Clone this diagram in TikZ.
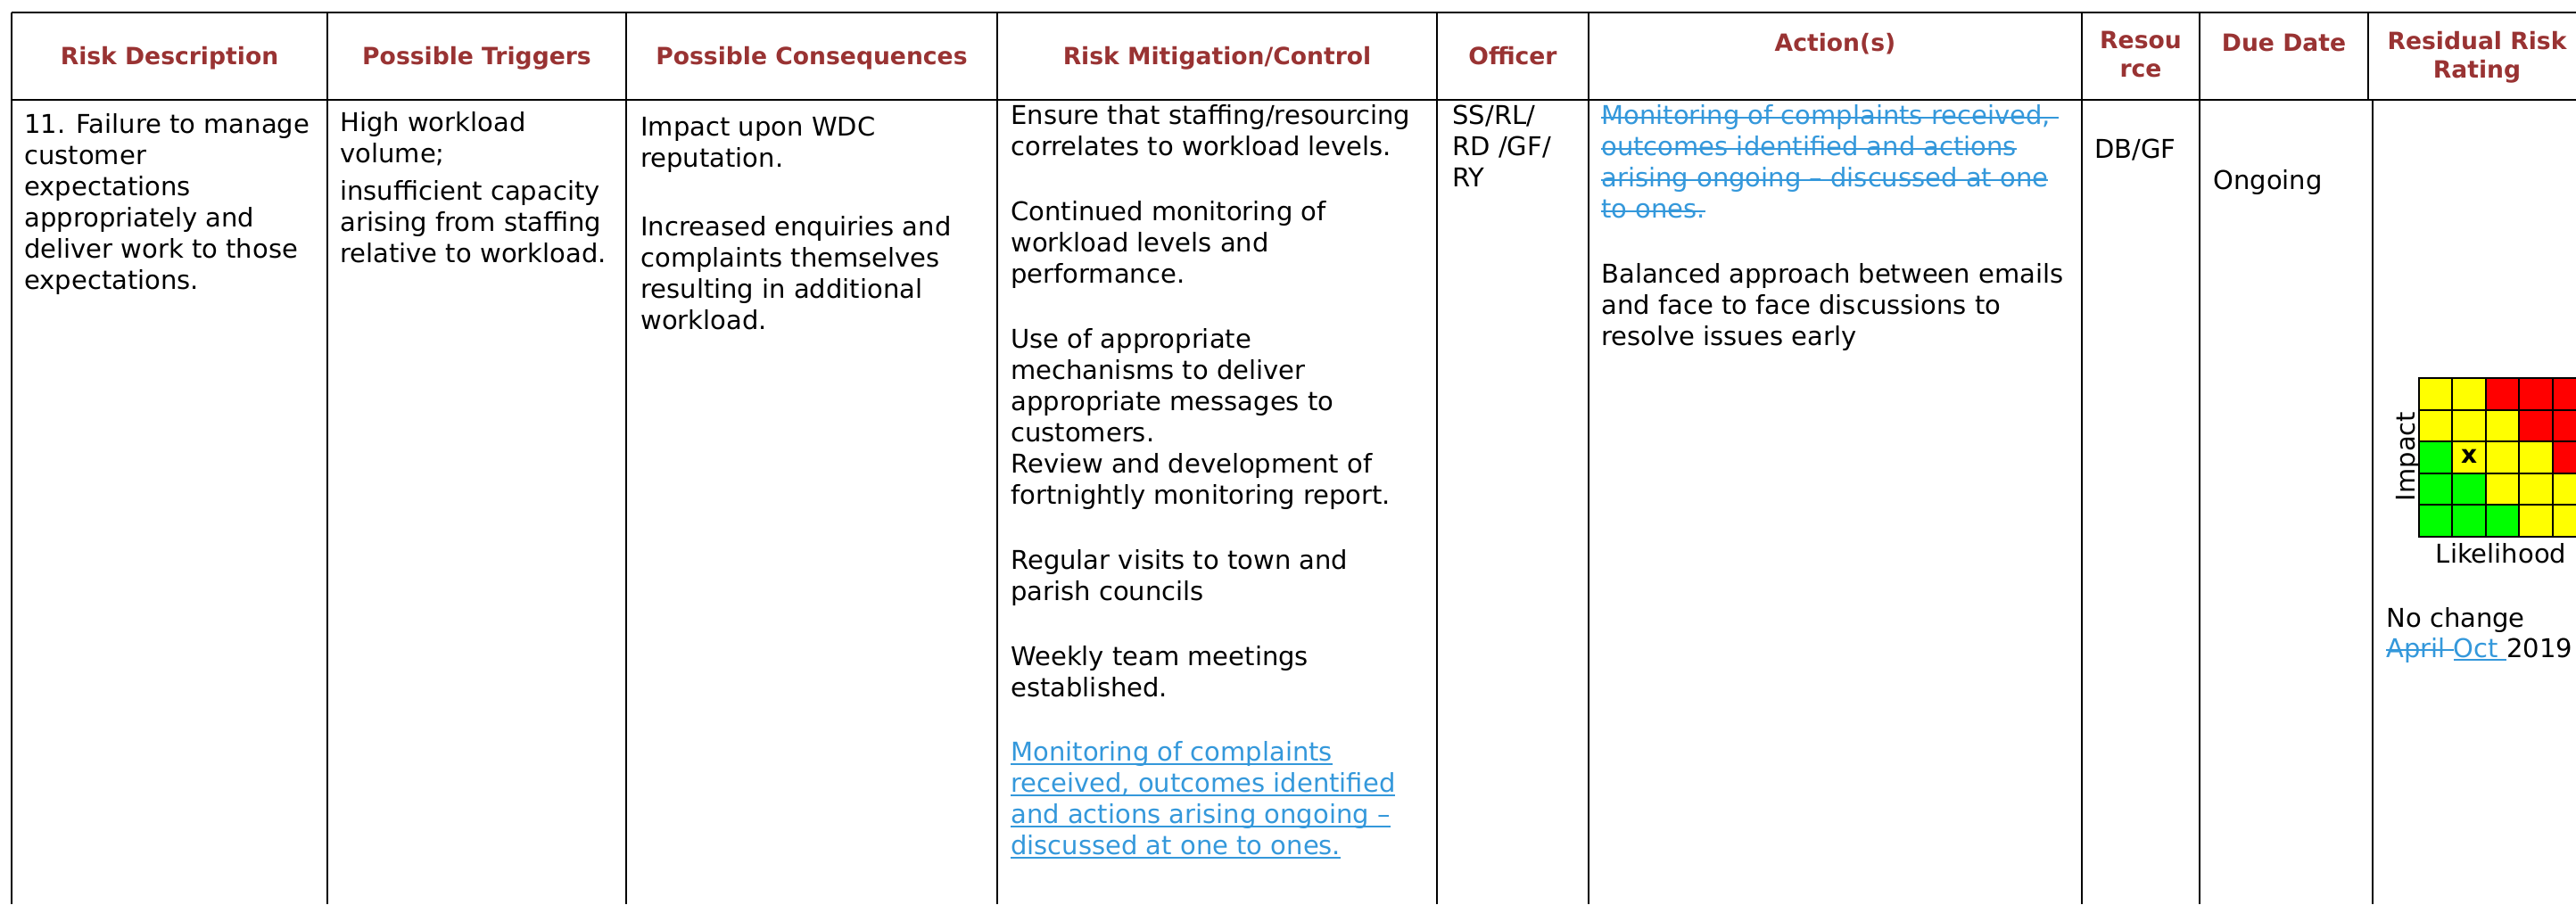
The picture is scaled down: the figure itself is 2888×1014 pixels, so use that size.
\documentclass[tikz,border=0pt]{standalone}
\usepackage{fontspec}
\setmainfont{DejaVu Sans}
\definecolor{hdr}{RGB}{153,51,51}
\definecolor{chg}{RGB}{52,152,219}
\definecolor{rg}{RGB}{0,255,0}
\definecolor{ry}{RGB}{255,255,0}
\definecolor{rr}{RGB}{255,0,0}
\newcommand{\bodyf}{\fontsize{14.5pt}{17.5pt}\selectfont}
\newcommand{\hdrf}{\fontsize{13.3pt}{16pt}\selectfont\bfseries}
\newsavebox{\lnbox}
\newcommand{\stk}[1]{\sbox{\lnbox}{#1}\rlap{\rule[3.6pt]{\wd\lnbox}{1pt}}\usebox{\lnbox}}
\newcommand{\ulne}[1]{\sbox{\lnbox}{#1}\rlap{\rule[-2.2pt]{\wd\lnbox}{1pt}}\usebox{\lnbox}}
\begin{document}
\begin{tikzpicture}[x=0.5pt,y=-0.5pt,
  grid/.style={line width=1pt, black},
  bt/.style={anchor=north west, inner sep=0pt, align=left, font=\bodyf, execute at begin node=\strut},
  hd/.style={inner sep=0pt, align=center, font=\hdrf, text=hdr},
  hdtop/.style={hd, anchor=north, execute at begin node=\strut},
  cell/.style={draw=black, line width=1pt},
  lbl/.style={inner sep=0pt, font=\bodyf}]
\useasboundingbox (0,0) rectangle (2888,1014);
\fill[white] (0,0) rectangle (2888,1014);
\clip (0,0) rectangle (2888,1014);

% table rules
\draw[grid] (13,14) -- (2888,14);
\draw[grid] (13,112) -- (2888,112);
\foreach \x in {13,367,702,1118,1611,1781,2334,2466}
  \draw[grid] (\x,14) -- (\x,1014);
\draw[grid] (2655,14) -- (2655,112);
\draw[grid] (2660,112) -- (2660,1014);

% headers
\node[hd, anchor=base] (h1) at (190,72.7) {Risk Description};
\node[hd, anchor=base] (h2) at (534.5,72.7) {Possible Triggers};
\node[hd, anchor=base] (h3) at (910,72.7) {Possible Consequences};
\node[hd, anchor=base] (h4) at (1364.5,72.7) {Risk Mitigation/Control};
\node[hd, anchor=base] (h5) at (1696,72.7) {Officer};
\node[hdtop] (h6) at (2057.5,34.6) {Action(s)};
\node[hdtop] (h7) at (2400,34.6) {Resou\\rce};
\node[hdtop] (h8) at (2560.5,34.6) {Due Date};
\node[hdtop] (h9) at (2777,34.6) {Residual Risk\\Rating};

% column 1
\node[bt] (d1) at (27,127.5) {11. Failure to manage\\customer\\expectations\\appropriately and\\deliver work to those\\expectations.};
% column 2
\node[bt] (t1) at (381,125.5) {High workload\\volume;};
\node[bt] (t2) at (381,202.5) {insufficient capacity\\arising from staffing\\relative to workload.};
% column 3
\node[bt] (c1) at (718,130.5) {Impact upon WDC\\reputation.};
\node[bt] (c2) at (718,242.5) {Increased enquiries and\\complaints themselves\\resulting in additional\\workload.};
% column 4
\node[bt] (m1) at (1133,117.5) {Ensure that staffing/resourcing\\correlates to workload levels.};
\node[bt] (m2) at (1133,225.3) {Continued monitoring of\\workload levels and\\performance.};
\node[bt] (m3) at (1133,368.1) {Use of appropriate\\mechanisms to deliver\\appropriate messages to\\customers.\\Review and development of\\fortnightly monitoring report.};
\node[bt] (m4) at (1133,615.9) {Regular visits to town and\\parish councils};
\node[bt] (m5) at (1133,723.7) {Weekly team meetings\\established.};
\node[bt, text=chg] (m6) at (1133,831.5) {\ulne{Monitoring of complaints}\\\ulne{received, outcomes identified}\\\ulne{and actions arising ongoing –}\\\ulne{discussed at one to ones.}};
% column 5
\node[bt] (o1) at (1628,117.5) {SS/RL/\\RD /GF/\\RY};
% column 6
\node[bt, text=chg] (a1) at (1795,117.5) {\stk{Monitoring of complaints received, }\\\stk{outcomes identified and actions}\\\stk{arising ongoing – discussed at one}\\\stk{to ones.}};
\node[bt] (a2) at (1795,295.5) {Balanced approach between emails\\and face to face discussions to\\resolve issues early};
% column 7
\node[bt] (r1) at (2348,152.5) {DB/GF};
% column 8
\node[bt] (dd) at (2481,187.5) {Ongoing};

% risk matrix
\foreach \r/\lst in {0/{ry,ry,rr,rr,rr},1/{ry,ry,ry,rr,rr},2/{rg,ry,ry,ry,rr},3/{rg,rg,ry,ry,ry},4/{rg,rg,rg,ry,ry}}{
  \foreach \c [count=\k from 0] in \lst {
    \draw[cell, fill=\c] (2712+37.4*\k, 424+35.6*\r) rectangle ++(37.4,35.6);
  }
}
\node[inner sep=0pt, font=\fontsize{14pt}{16pt}\selectfont\bfseries] (mx) at (2768.1,512) {x};
\node[lbl, rotate=90] (imp) at (2700,512) {Impact};
\node[lbl, anchor=base] (lik) at (2804,631) {Likelihood};
\node[lbl, anchor=base west] (nc) at (2675,703) {No change};
\node[lbl, anchor=base west] (dt) at (2675,737) {\textcolor{chg}{\stk{April }\ulne{Oct }}2019};
\end{tikzpicture}
\end{document}
